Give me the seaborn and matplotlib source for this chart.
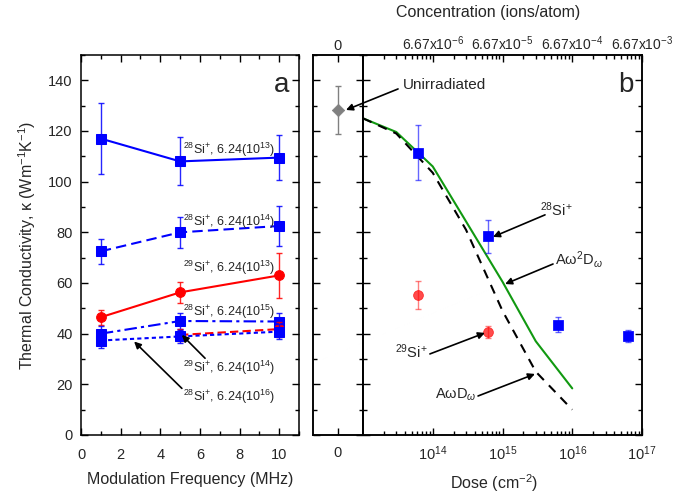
import matplotlib
matplotlib.use('Agg')
import matplotlib.pyplot as plt
import seaborn as sns
import numpy as np
import pandas as pd
from matplotlib.ticker import MultipleLocator, LogLocator, NullFormatter

sns.set_style('ticks')
plt.rcParams['font.family'] = ['Liberation Sans', 'DejaVu Sans']
plt.rcParams['mathtext.fontset'] = 'custom'
plt.rcParams['mathtext.rm'] = 'Liberation Sans'
plt.rcParams['mathtext.it'] = 'Liberation Sans:italic'
plt.rcParams['mathtext.bf'] = 'Liberation Sans:bold'

# panel a: thermal conductivity vs modulation frequency
freq = [1, 5, 10]
si28_13 = [117, 108, 109.5]
si28_13_err = [14, 9.5, 9]
si28_14 = [72.5, 80, 82.5]
si28_14_err = [5, 6, 8]
si29_13 = [46.5, 56.3, 63]
si29_13_err = [3, 4, 9]
si28_15 = [40, 45, 44.8]
si28_15_err = [3, 3.3, 3.3]
freq_29_14 = [5, 10]
si29_14 = [39.5, 41.8]
si29_14_err = [2.5, 3]
si28_16 = [37.3, 38.9, 40.8]
si28_16_err = [3, 2.5, 3]

# panel b: thermal conductivity vs dose
unirr_k = 128.3
unirr_err = 9.5
dose_28 = [6.24e13, 6.24e14, 6.24e15, 6.24e16]
k_28 = [111.5, 78.4, 43.5, 39.1]
k_28_err = [11, 6.5, 3, 2.5]
dose_29 = [6.24e13, 6.24e14]
k_29 = [55.2, 40.6]
k_29_err = [5.4, 2.5]
dose_model = [1e13, 3e13, 1e14, 3e14, 1e15, 3e15, 1e16]
k_a2d = [125, 119.6, 106, 84.3, 60.5, 37, 18.4]
k_ad = [125, 119, 103.5, 81, 49, 25, 10]

dose_ticks = [1e14, 1e15, 1e16, 1e17]
dose_labels = ['10$^{14}$', '10$^{15}$', '10$^{16}$', '10$^{17}$']
conc_labels = ['6.67x10$^{-6}$', '6.67x10$^{-5}$', '6.67x10$^{-4}$', '6.67x10$^{-3}$']

blue = '#0000ff'
red = '#ff0000'
green = '#119911'

fig = plt.figure(figsize=(6.95, 4.95), dpi=100)
W, H = 695, 495
axa = fig.add_axes([81/W, 1-435/H, 218/W, 380/H])
ax0 = fig.add_axes([313/W, 1-435/H, 50/W, 380/H])
ax1 = fig.add_axes([363/W, 1-435/H, 279/W, 380/H])

# ---- panel a
series = [
    (freq, si28_13, si28_13_err, blue, '-', 's'),
    (freq, si28_14, si28_14_err, blue, (0, (5, 2.5)), 's'),
    (freq, si29_13, si29_13_err, red, '-', 'o'),
    (freq, si28_15, si28_15_err, blue, (0, (6, 2, 1.5, 2)), 's'),
    (freq_29_14, si29_14, si29_14_err, red, (0, (4, 2)), 'o'),
    (freq, si28_16, si28_16_err, blue, (0, (2, 1.5)), 's'),
]
for x, y, e, c, ls, m in series:
    axa.errorbar(x, y, yerr=e, fmt='none', ecolor=c, elinewidth=1,
                 capsize=2.5, capthick=1, alpha=0.85)
    sns.lineplot(x=x, y=y, ax=axa, color=c, linestyle=ls, lw=1.5,
                 marker=m, markersize=7, markeredgecolor=c)

axa.set_xlim(0, 11)
axa.set_ylim(0, 150)
axa.xaxis.set_major_locator(MultipleLocator(2))
axa.xaxis.set_minor_locator(MultipleLocator(1))
axa.yaxis.set_major_locator(MultipleLocator(20))
axa.yaxis.set_minor_locator(MultipleLocator(10))
axa.set_xlabel('Modulation Frequency (MHz)', fontsize=11.5, labelpad=7)
axa.set_ylabel('Thermal Conductivity, κ (Wm$^{-1}$K$^{-1}$)', fontsize=11.5, labelpad=7)
axa.text(10.5, 138, 'a', fontsize=20, ha='right', va='center')

fs_a = 9
axa.text(5.15, 112.6, '$^{28}$Si$^{+}$, 6.24(10$^{13}$)', fontsize=fs_a, va='center')
axa.text(5.15, 84.3, '$^{28}$Si$^{+}$, 6.24(10$^{14}$)', fontsize=fs_a, va='center')
axa.text(5.15, 65.9, '$^{29}$Si$^{+}$, 6.24(10$^{13}$)', fontsize=fs_a, va='center')
axa.text(5.15, 48.7, '$^{28}$Si$^{+}$, 6.24(10$^{15}$)', fontsize=fs_a, va='center')
axa.text(5.15, 26.3, '$^{29}$Si$^{+}$, 6.24(10$^{14}$)', fontsize=fs_a, va='center')
axa.text(5.15, 15.1, '$^{28}$Si$^{+}$, 6.24(10$^{16}$)', fontsize=fs_a, va='center')

arrow = dict(arrowstyle='-|>', color='k', lw=1.2, shrinkA=0, shrinkB=0, mutation_scale=10)
axa.annotate('', xy=(5.09, 39.5), xytext=(6.26, 30.3), arrowprops=arrow)
axa.annotate('', xy=(2.68, 36.9), xytext=(5.09, 18.4), arrowprops=arrow)

# ---- panel b, unirradiated part
ax0.errorbar([0], [unirr_k], yerr=[unirr_err], fmt='none', ecolor='gray',
             elinewidth=1, capsize=2.5, capthick=1)
sns.scatterplot(x=[0], y=[unirr_k], ax=ax0, marker='D', color='gray', s=40,
                edgecolor='gray', zorder=3)
ax0.set_xlim(-1, 1)
ax0.set_ylim(0, 150)
ax0.set_xticks([0])
ax0.set_xticklabels(['0'])
ax0.yaxis.set_major_locator(MultipleLocator(20))
ax0.yaxis.set_minor_locator(MultipleLocator(10))

ax0t = ax0.twiny()
ax0t.set_xlim(-1, 1)
ax0t.set_xticks([0])
ax0t.set_xticklabels(['0'])

# ---- panel b, dose part
ax1.set_xscale('log')
sns.lineplot(x=dose_model, y=k_a2d, ax=ax1, color=green, lw=1.5)
sns.lineplot(x=dose_model, y=k_ad, ax=ax1, color='k', lw=1.5, linestyle=(0, (4.5, 3.5)))
ax1.errorbar(dose_28, k_28, yerr=k_28_err, fmt='none', ecolor=blue, elinewidth=1,
             capsize=2.5, capthick=1, alpha=0.6)
sns.scatterplot(x=dose_28, y=k_28, ax=ax1, marker='s', color=blue, s=45,
                edgecolor=blue, zorder=3)
ax1.errorbar(dose_29, k_29, yerr=k_29_err, fmt='none', ecolor=red, elinewidth=1,
             capsize=2.5, capthick=1, alpha=0.5)
sns.scatterplot(x=dose_29, y=k_29, ax=ax1, marker='o', color=red, s=50,
                edgecolor=red, alpha=0.7, zorder=3)
ax1.set_xlim(1e13, 1e17)
ax1.set_ylim(0, 150)
ax1.set_xticks(dose_ticks)
ax1.set_xticklabels(dose_labels)
ax1.xaxis.set_minor_locator(LogLocator(base=10, subs=np.arange(2, 10), numticks=20))
ax1.xaxis.set_minor_formatter(NullFormatter())
ax1.yaxis.set_major_locator(MultipleLocator(20))
ax1.yaxis.set_minor_locator(MultipleLocator(10))
ax1.text(7.5e16, 138, 'b', fontsize=20, ha='right', va='center')

ax2 = ax1.twiny()
ax2.set_xscale('log')
ax2.set_xlim(1e13, 1e17)
ax2.set_xticks(dose_ticks)
ax2.set_xticklabels(conc_labels)
ax2.xaxis.set_minor_locator(LogLocator(base=10, subs=np.arange(2, 10), numticks=20))
ax2.xaxis.set_minor_formatter(NullFormatter())

fs_b = 10.5
ax1.text(3.7e13, 138, 'Unirradiated', fontsize=11, va='center')
ax1.annotate('', xy=(0.32, 128.3), xycoords=ax0.transData, xytext=(3.18e13, 136.6),
             textcoords='data', arrowprops=arrow, annotation_clip=False)
ax1.text(3.45e15, 88.8, '$^{28}$Si$^{+}$', fontsize=fs_b, va='center')
ax1.annotate('', xy=(7.3e14, 78.2), xytext=(4.07e15, 86.9), arrowprops=arrow)
ax1.text(5.66e15, 69.1, 'Aω$^{2}$D$_{ω}$', fontsize=fs_b, va='center')
ax1.annotate('', xy=(1.09e15, 59.6), xytext=(5.3e15, 67.5), arrowprops=arrow)
ax1.text(8.55e13, 32.8, '$^{29}$Si$^{+}$', fontsize=fs_b, va='center', ha='right')
ax1.annotate('', xy=(5.6e14, 40.3), xytext=(9.1e13, 32), arrowprops=arrow)
ax1.text(1.07e14, 15.8, 'AωD$_{ω}$', fontsize=fs_b, va='center')
ax1.annotate('', xy=(2.92e15, 24.1), xytext=(4.46e14, 15.4), arrowprops=arrow)

# ---- ticks and spines
for ax in [axa, ax0, ax1]:
    ax.tick_params(which='both', direction='in', top=True, right=True,
                   labelsize=10.5, width=1, color='k')
    ax.tick_params(which='major', length=5, pad=6)
    ax.tick_params(which='minor', length=3)
    for s in ax.spines.values():
        s.set_linewidth(1.1)
        s.set_color('k')
axa.tick_params(axis='x', which='major', pad=9.5)
ax0.tick_params(labelleft=False, top=False)
ax0.tick_params(axis='x', which='major', pad=8)
ax1.tick_params(labelleft=False, top=False, which='both')
ax1.tick_params(axis='x', which='major', pad=6.5)
for ax, fs in [(ax2, 10), (ax0t, 10.5)]:
    ax.tick_params(which='both', direction='in', labelsize=fs, width=1, color='k')
    ax.tick_params(which='major', length=5, pad=1.5)
    ax.tick_params(which='minor', length=3)
    for s in ax.spines.values():
        s.set_linewidth(1.1)
        s.set_color('k')

fig.text(488/W, 1-12/H, 'Concentration (ions/atom)', fontsize=11.5, ha='center', va='center')
fig.text(494/W, 1-483/H, 'Dose (cm$^{-2}$)', fontsize=11.5, ha='center', va='center')

fig.savefig('out.png', dpi=100)
